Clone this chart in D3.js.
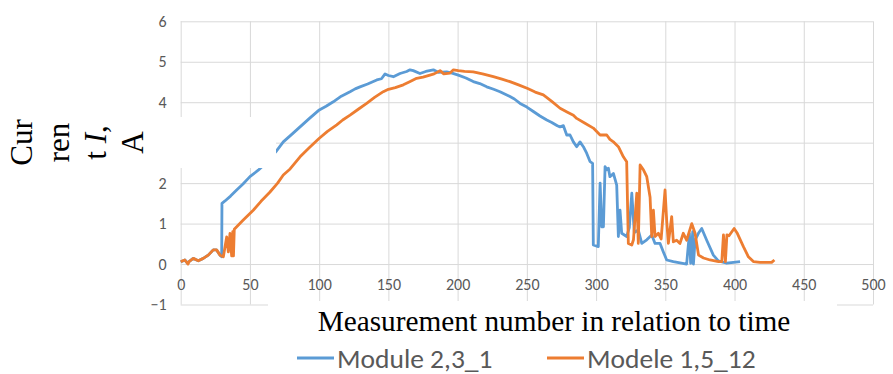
<!DOCTYPE html>
<html>
<head>
<meta charset="utf-8">
<script src="https://cdn.jsdelivr.net/npm/d3@7"></script>
<style>
  body { margin: 0; background: #fff; }
  svg { display: block; }
</style>
</head>
<body>
<div id="chart"></div>
<script>
const blueX = [0, 3, 5, 6, 9, 12.7, 16.3, 19.9, 23.5, 25.9, 28.4, 29.6, 29.8, 32, 36, 40.4, 45, 50, 56, 58.5, 63, 68.8, 74.1, 80, 86.2, 93, 100.1, 105, 110.2, 116, 122.3, 126, 129.5, 135, 141.6, 145, 147.6, 150, 153.6, 158.4, 163.2, 165.6, 168, 172.8, 177, 182.5, 186, 192.1, 196, 200.5, 206, 211.3, 216, 221, 226, 230.6, 237.8, 241, 245.1, 250, 254.7, 259.5, 264.4, 268, 272, 274, 276.4, 278.8, 281.2, 283.6, 286, 288.4, 290.8, 293.2, 295.7, 297.5, 298, 301.6, 302.9, 304.1, 305.3, 306.5, 307.7, 308.9, 310, 312.5, 314.9, 316.1, 317.3, 318.5, 322.1, 324, 325.8, 327.6, 330.5, 333, 336.6, 340.2, 342.6, 346.2, 348.6, 351, 355.8, 360.6, 365.4, 367.4, 368.3, 369.8, 370.3, 371.5, 373.9, 376.3, 379.9, 384.7, 388.3, 394.4, 404];
const blueY = [0.05, 0.1, 0.02, 0.06, 0.14, 0.08, 0.14, 0.22, 0.35, 0.35, 0.22, 0.18, 1.5, 1.56, 1.68, 1.83, 1.98, 2.16, 2.32, 2.4, 2.55, 2.78, 3.02, 3.2, 3.39, 3.6, 3.81, 3.9, 4.01, 4.15, 4.26, 4.33, 4.38, 4.45, 4.55, 4.58, 4.7, 4.66, 4.63, 4.71, 4.76, 4.8, 4.78, 4.71, 4.76, 4.8, 4.74, 4.75, 4.72, 4.67, 4.6, 4.51, 4.46, 4.38, 4.32, 4.26, 4.14, 4.08, 3.97, 3.88, 3.77, 3.66, 3.56, 3.5, 3.42, 3.39, 3.42, 3.19, 3.19, 3.02, 2.9, 3.02, 2.9, 2.74, 2.53, 2.49, 0.47, 0.43, 2.0, 0.92, 0.92, 2.41, 2.33, 2.37, 2.16, 2.24, 1.95, 0.68, 1.33, 0.76, 0.68, 0.9, 1.75, 0.78, 0.84, 0.51, 0.6, 0.72, 0.51, 0.51, 0.3, 0.1, 0.06, 0.03, 0.0, 0.76, 0.02, 0.8, 0.0, 0.59, 0.76, 0.88, 0.59, 0.22, 0.08, 0.02, 0.06];

const orangeX = [0, 3, 5.3, 6, 9.1, 12.7, 16.3, 19.9, 23.5, 25.9, 28.4, 30.8, 33.2, 34.4, 35.6, 36.8, 37.6, 38.1, 38.7, 45, 52.4, 58, 64.5, 70, 74.1, 79, 86.2, 93, 100.1, 106, 112.7, 117, 122.3, 128, 134.3, 140, 146.3, 150, 155, 160.8, 165, 170.4, 175, 180, 183, 187.3, 190, 194.5, 197, 200.5, 205, 211.3, 218, 225.8, 232, 237.8, 244, 250.6, 256, 261.9, 268, 274, 279, 283.6, 286, 292, 298, 302.9, 307.7, 310, 312.5, 313.7, 316.1, 319.7, 322.1, 323.3, 325.8, 327, 329.4, 330.5, 331.8, 334.2, 336.6, 339, 340.2, 341.4, 342.6, 345, 347, 349.8, 351, 352.2, 354.6, 355.8, 358.2, 360.6, 363, 365.4, 369.1, 371.5, 374, 377.6, 382.3, 388.4, 390.8, 392, 393.4, 394.5, 396, 399.7, 402, 406.4, 410, 413.6, 418.4, 426.8, 428.8];
const orangeY = [0.06, 0.1, 0.0, 0.06, 0.14, 0.08, 0.14, 0.22, 0.35, 0.35, 0.22, 0.18, 0.67, 0.3, 0.76, 0.2, 0.8, 0.2, 0.86, 1.08, 1.33, 1.55, 1.78, 2.0, 2.2, 2.35, 2.65, 2.88, 3.11, 3.28, 3.44, 3.56, 3.68, 3.82, 3.97, 4.12, 4.26, 4.32, 4.36, 4.43, 4.5, 4.59, 4.62, 4.67, 4.7, 4.78, 4.7, 4.72, 4.8, 4.78, 4.76, 4.75, 4.7, 4.63, 4.57, 4.51, 4.43, 4.34, 4.25, 4.18, 4.02, 3.85, 3.76, 3.68, 3.6, 3.48, 3.36, 3.19, 3.19, 3.08, 3.02, 2.98, 2.9, 2.65, 2.53, 0.51, 0.47, 0.6, 1.75, 0.51, 2.45, 2.33, 2.16, 1.65, 0.68, 1.33, 0.68, 0.76, 0.62, 1.83, 1.07, 0.51, 1.17, 0.55, 0.59, 0.51, 0.76, 0.59, 1.0, 0.76, 0.22, 0.15, 0.1, 0.06, 0.06, 0.72, 0.06, 0.72, 0.7, 0.88, 0.76, 0.43, 0.18, 0.06, 0.04, 0.04, 0.1];

const seriesNames = ['Module 2,3_1', 'Modele 1,5_12'];
const seriesColors = ['#5B9BD5', '#ED7D31'];
const xTicks = [0, 50, 100, 150, 200, 250, 300, 350, 400, 450, 500];
const yTicks = [-1, 0, 1, 2, 3, 4, 5, 6];
const yTitleLines = ['Cur', 'ren', 't I,', 'A'];
const xTitle = 'Measurement number in relation to time';

const width = 893;
const height = 374;
const labelFont = "Carlito, 'Noto Sans', sans-serif";
const serif = "'Liberation Serif', 'Times New Roman', serif";

const x = d3.scaleLinear().domain([0, 500]).range([180.7, 873]);
const y = d3.scaleLinear().domain([-1, 6]).range([304.5, 21.3]);

const svg = d3.select('#chart').append('svg')
  .attr('width', width)
  .attr('height', height)
  .attr('viewBox', `0 0 ${width} ${height}`);

// gridlines
svg.append('g')
  .attr('transform', `translate(0,${y(-1)})`)
  .call(d3.axisBottom(x).tickValues(xTicks).tickSize(-(y(-1) - y(6))).tickFormat(''))
  .call(g => g.select('.domain').remove())
  .call(g => g.selectAll('line').attr('stroke', '#d9d9d9'));

svg.append('g')
  .attr('transform', `translate(${x(0)},0)`)
  .call(d3.axisLeft(y).tickValues(yTicks).tickSize(-(x(500) - x(0))).tickFormat(''))
  .call(g => g.select('.domain').remove())
  .call(g => g.selectAll('line').attr('stroke', '#d9d9d9'));

// tick labels, x axis crosses at 0
svg.append('g')
  .attr('transform', `translate(0,${y(0) + 26})`)
  .call(d3.axisBottom(x).tickValues(xTicks).tickSize(0).tickPadding(0).tickFormat(d3.format('d')))
  .call(g => g.select('.domain').remove())
  .call(g => g.selectAll('text')
    .attr('y', 0).attr('dy', 0)
    .attr('fill', '#595959')
    .style('font', `16px ${labelFont}`));

svg.append('g')
  .attr('transform', `translate(${x(0) - 14},0)`)
  .call(d3.axisLeft(y).tickValues(yTicks).tickSize(0).tickPadding(0).tickFormat(d3.format('d')))
  .call(g => g.select('.domain').remove())
  .call(g => g.selectAll('text')
    .attr('fill', '#595959')
    .style('font', `16px ${labelFont}`));

const line = d3.line()
  .x(d => x(d[0]))
  .y(d => y(d[1]));

const series = [
  d3.zip(blueX, blueY),
  d3.zip(orangeX, orangeY)
];

svg.selectAll('path.series')
  .data(series)
  .join('path')
  .attr('class', 'series')
  .attr('fill', 'none')
  .attr('stroke', (d, i) => seriesColors[i])
  .attr('stroke-width', 2.8)
  .attr('stroke-linejoin', 'round')
  .attr('d', line);

// y title box (white, sits over the plot)
svg.append('rect')
  .attr('x', 0).attr('y', 117)
  .attr('width', 276).attr('height', 51)
  .attr('fill', '#fff');

const yTitle = svg.append('g')
  .style('font', `31px ${serif}`)
  .attr('fill', '#000');

yTitleLines.forEach((t, i) => {
  const txt = yTitle.append('text')
    .attr('transform', `translate(${32 + i * 37},142.5) rotate(-90)`)
    .attr('text-anchor', 'middle');
  if (t === 't I,') {
    txt.append('tspan').text('t ');
    txt.append('tspan').style('font-style', 'italic').text('I');
    txt.append('tspan').text(',');
  } else {
    txt.text(t);
  }
});

// x title box
svg.append('rect')
  .attr('x', 268).attr('y', 301)
  .attr('width', 569).attr('height', 41)
  .attr('fill', '#fff');

svg.append('text')
  .attr('x', 554).attr('y', 331)
  .attr('text-anchor', 'middle')
  .style('font', `29.3px ${serif}`)
  .attr('fill', '#000')
  .text(xTitle);

// legend
const legendX = [297, 547];
const legend = svg.append('g');
seriesNames.forEach((name, i) => {
  legend.append('line')
    .attr('x1', legendX[i]).attr('x2', legendX[i] + 37)
    .attr('y1', 358).attr('y2', 358)
    .attr('stroke', seriesColors[i])
    .attr('stroke-width', 2.8);
  legend.append('text')
    .attr('x', legendX[i] + 40).attr('y', 368)
    .style('font', `27.5px ${labelFont}`)
    .attr('fill', '#595959')
    .text(name);
});
</script>
</body>
</html>
